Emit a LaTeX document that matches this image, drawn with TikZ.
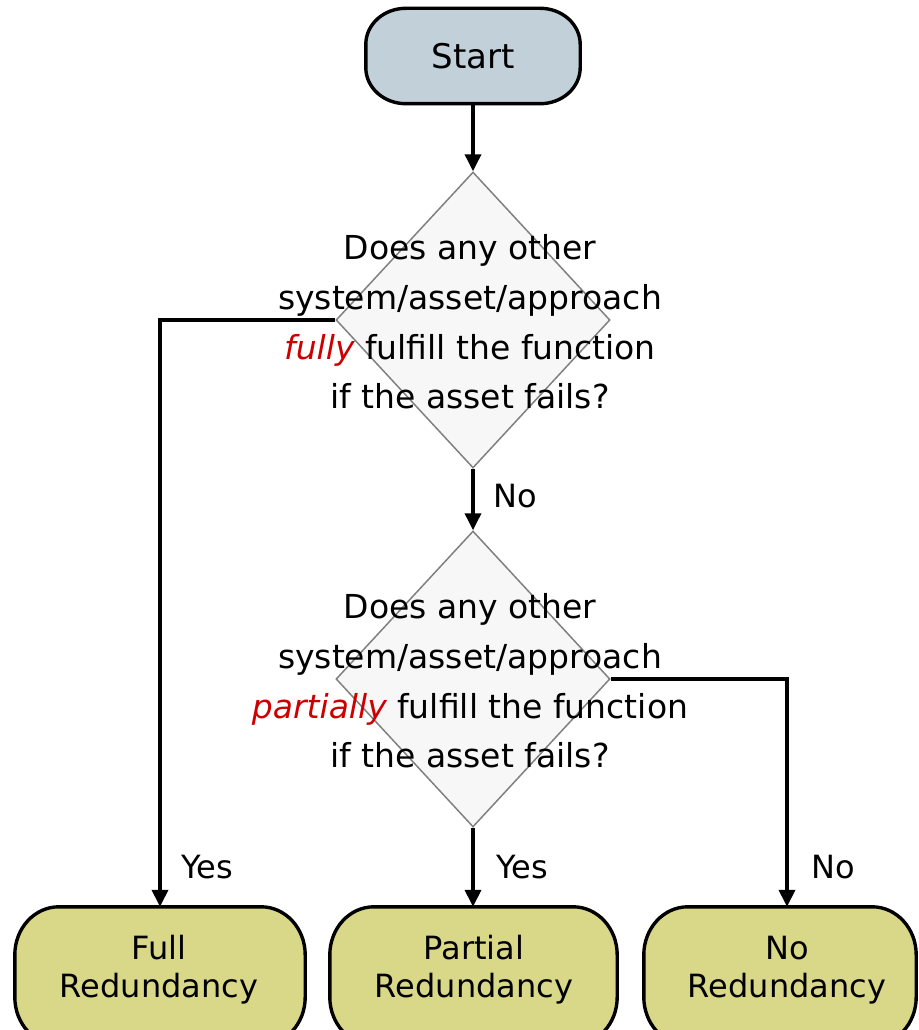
\documentclass[tikz,border=0pt]{standalone}
\usepackage{fontspec}
\setmainfont{DejaVu Sans}
\usetikzlibrary{shapes.geometric,arrows.meta,backgrounds}

\definecolor{startfill}{RGB}{194,209,217}
\definecolor{endfill}{RGB}{217,215,136}
\definecolor{decfill}{RGB}{247,247,247}
\definecolor{decline}{RGB}{128,128,128}
\definecolor{emph}{RGB}{204,0,0}

\tikzset{
  terminal/.style={inner sep=0pt, minimum height=95pt, minimum width=214pt,
    font=\fontsize{34}{40}\selectfont},
  endbox/.style={inner sep=0pt, minimum height=138pt},
  endtext/.style={align=center, inner sep=0pt,
    font=\fontsize{32}{38}\selectfont},
  decision/.style={diamond, draw=decline, line width=1.5pt, fill=decfill,
    inner sep=0pt, minimum width=274pt, minimum height=296pt},
  question/.style={align=center, inner sep=0pt,
    font=\fontsize{33}{49.7}\selectfont},
  conn/.style={line width=3.6pt, -{Triangle[width=16pt,length=17pt]}},
  answer/.style={inner sep=0pt, anchor=base west,
    font=\fontsize{32}{38}\selectfont},
  outline/.style={draw=black, line width=3.4pt}
}

\newcommand{\hl}[1]{{\itshape\color{emph}#1}}
% rounded box with elliptical corners around node #1 (x radius #2, y radius #3)
\newcommand{\ovalbox}[4]{%
  \path[outline, fill=#4]
    ([xshift=#2]#1.north west) -- ([xshift=-#2]#1.north east)
    arc[start angle=90, end angle=0, x radius=#2, y radius=#3]
    -- ([yshift=#3]#1.south east)
    arc[start angle=0, end angle=-90, x radius=#2, y radius=#3]
    -- ([xshift=#2]#1.south west)
    arc[start angle=-90, end angle=-180, x radius=#2, y radius=#3]
    -- ([yshift=-#3]#1.north west)
    arc[start angle=180, end angle=90, x radius=#2, y radius=#3]
    -- cycle;}

\begin{document}
\begin{tikzpicture}[x=1pt,y=-1pt]
  \useasboundingbox (0,0) rectangle (918,1030);

  % start terminal
  \node[terminal] (start) at (473,56) {Start};

  % first question
  \node[decision] (q1) at (473,320) {};
  \node[question] (q1text) at (470,322)
    {Does any other\\system/asset/approach\\\hl{fully} fulfill the function\\if the asset fails?};

  % second question
  \node[decision] (q2) at (473,679) {};
  \node[question] (q2text) at (470,681)
    {Does any other\\system/asset/approach\\\hl{partially} fulfill the function\\if the asset fails?};

  % outcomes
  \node[endbox, minimum width=290pt] (full) at (160,976) {};
  \node[endtext] (fulltext) at (159,970) {Full\\Redundancy};
  \node[endbox, minimum width=287pt] (partial) at (473.5,976) {};
  \node[endtext] (partialtext) at (474,970) {Partial\\Redundancy};
  \node[endbox, minimum width=272pt] (none) at (780,976) {};
  \node[endtext] (nonetext) at (787,970) {No\\Redundancy};

  % box outlines behind the texts
  \begin{scope}[on background layer]
    \ovalbox{start}{40pt}{36pt}{startfill}
    \ovalbox{full}{44pt}{48pt}{endfill}
    \ovalbox{partial}{44pt}{48pt}{endfill}
    \ovalbox{none}{44pt}{48pt}{endfill}
  \end{scope}

  % connectors
  \draw[conn] (start) -- (q1);
  \draw[conn] (q1) -- (q2);
  \draw[conn] (q1.west) -| (full);
  \draw[conn] (q2) -- (partial.north -| q2.south);
  \draw[conn] (q2.east) -| (nonetext.center |- none.north);

  % answer labels
  \node[answer] (lno1) at (493,507) {No};
  \node[answer] (lyes1) at (181,878) {Yes};
  \node[answer] (lyes2) at (496,878) {Yes};
  \node[answer] (lno2) at (811,878) {No};
\end{tikzpicture}
\end{document}
